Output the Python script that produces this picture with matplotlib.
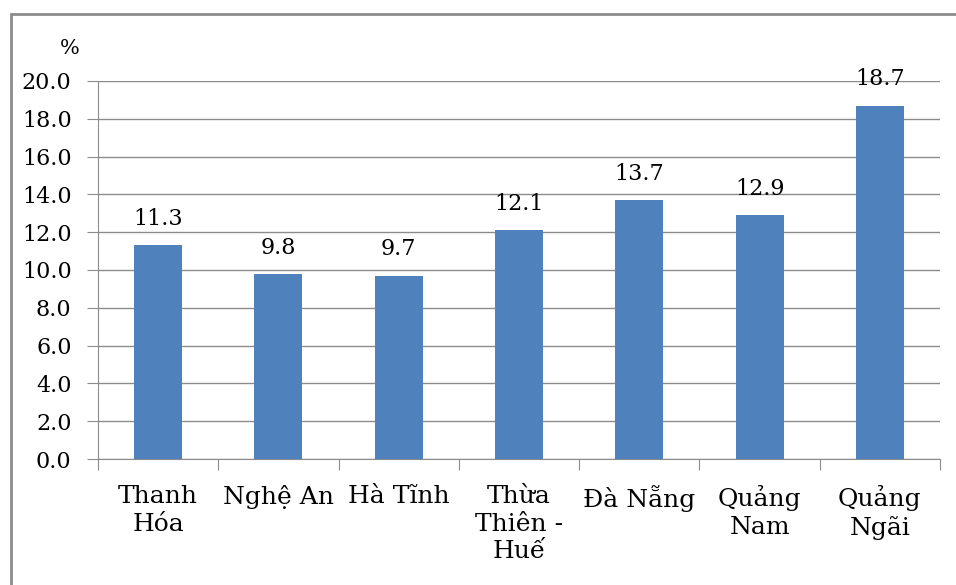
import matplotlib.pyplot as plt
from matplotlib.patches import Rectangle

provinces = ['Thanh\nHóa', 'Nghệ An', 'Hà Tĩnh', 'Thừa\nThiên -\nHuế',
             'Đà Nẵng', 'Quảng\nNam', 'Quảng\nNgãi']
rates = [11.3, 9.8, 9.7, 12.1, 13.7, 12.9, 18.7]
yticks = [0, 2, 4, 6, 8, 10, 12, 14, 16, 18, 20]

plt.rcParams['font.family'] = ['DejaVu Serif']

W, H = 956, 585
fig = plt.figure(figsize=(W / 100, H / 100), dpi=100)
ax = fig.add_axes([98 / W, 1 - 459 / H, (940 - 98) / W, (459 - 81) / H])

# outer frame of the chart area
fig.patches.append(Rectangle((10.5 / W, -0.1), 1.2, 1 - 13.5 / H + 0.1,
                             transform=fig.transFigure, fill=False,
                             edgecolor='#8c8c8c', linewidth=2))

x = range(len(rates))
bars = ax.bar(x, rates, width=0.4, color='#4f81bd', zorder=3)
for b, v in zip(bars, rates):
    ax.annotate(f'{v:.1f}', (b.get_x() + b.get_width() / 2, v),
                xytext=(0, 11), textcoords='offset points',
                ha='center', va='bottom', fontsize=16)

ax.set_xlim(-0.5, len(rates) - 0.5)
ax.set_ylim(0, 20)
ax.set_yticks(yticks)
ax.set_yticklabels([f'{t:.1f}' for t in yticks], fontsize=16)
ax.yaxis.grid(True, color='#8c8c8c', linewidth=1, zorder=0)

ax.set_xticks([i + 0.5 for i in range(-1, len(rates))], minor=False)
ax.set_xticklabels([])
ax.set_xticks(list(x), minor=True)
ax.set_xticklabels(provinces, minor=True, fontsize=18, linespacing=1.25)
ax.tick_params(axis='x', which='major', length=8, color='#8c8c8c')
ax.tick_params(axis='x', which='minor', length=0, pad=19)
ax.tick_params(axis='y', length=8, color='#8c8c8c', pad=11)

for s in ['top', 'right']:
    ax.spines[s].set_visible(False)
for s in ['left', 'bottom']:
    ax.spines[s].set_color('#8c8c8c')

ax.text(-0.022, 1.062, '%', transform=ax.transAxes, ha='right', va='bottom',
        fontsize=15)

fig.savefig('out.png', dpi=100)
